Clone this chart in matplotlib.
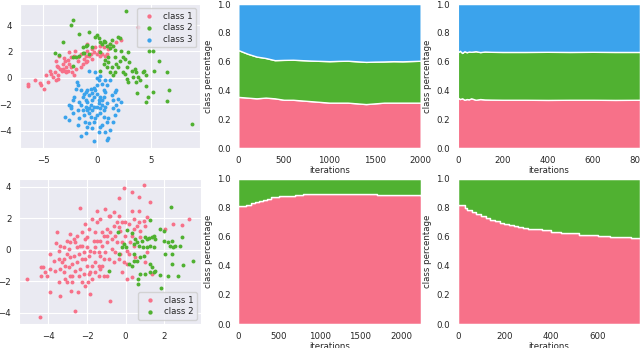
import numpy as np
import matplotlib
matplotlib.use("Agg")
import matplotlib.pyplot as plt
import seaborn as sns

sns.set_style("darkgrid")
plt.rcParams['font.family'] = ['DejaVu Sans']
colors = sns.color_palette("husl", 3)

# ---- scatter data, 3 classes (top left) ----
a_c1 = [(-6.4, -0.65), (-6.4, -0.5), (-5.8, -0.15), (-5.3, -0.4), (-5.2, -0.58), (-4.9, -0.83),
        (-4.55, -0.33), (-4.7, 0.18), (-4.25, 0.3), (-4.4, 0.5), (-3.95, 0.43), (-4.1, 0.05),
        (-3.8, -0.2), (-3.65, 0.18), (-3.6, 0.8), (-3.8, 1.3), (-3.5, 1.68), (-3.2, 1.05),
        (-3.3, 0.55), (-3.0, 1.3), (-2.9, 0.8), (-2.7, 1.35), (-2.6, 1.05), (-2.4, 0.8),
        (-2.7, 0.55), (-2.3, 0.43), (-2.1, 0.18), (-2.0, 0.68), (-2.4, 1.55), (-2.6, 1.93),
        (-2.1, 1.68), (-1.8, 1.3), (-1.5, 1.8), (-1.35, 1.05), (-1.2, 1.43), (-1.05, 1.68),
        (-0.9, 2.05), (-0.75, 1.68), (-0.6, 1.8), (-0.45, 2.18), (-0.3, 1.93), (-0.15, 2.3),
        (0.0, 1.8), (0.15, 2.05), (0.3, 2.43), (0.45, 1.8), (0.6, 2.3), (0.9, 1.8),
        (1.05, 2.18), (1.2, 2.55), (0.75, 1.68), (-1.05, 1.18), (-1.5, 0.8), (-1.8, 1.55),
        (-2.9, 0.43), (-3.2, 0.68), (-3.65, -0.08), (-3.1, 1.48), (-2.05, 2.05), (-0.9, 2.55),
        (1.8, 2.68), (2.25, 2.85), (3.8, 3.85), (-3.0, 0.55), (-3.7, 0.93), (-3.4, 0.68),
        (-0.9, 1.3), (-0.45, 1.43), (0.3, 1.68)]
a_c2 = [(2.65, 5.1), (-2.25, 4.35), (-2.4, 3.98), (-1.65, 3.35), (-0.75, 3.5), (-3.2, 2.75),
        (-3.95, 1.88), (-3.5, 1.75), (-2.25, 1.6), (-1.95, 1.55), (-1.35, 1.85), (-1.05, 2.43),
        (-0.9, 2.5), (-0.45, 2.3), (-0.15, 3.1), (0.0, 3.23), (0.15, 3.05), (0.3, 2.68),
        (0.45, 2.55), (0.6, 2.8), (0.75, 2.68), (0.9, 2.43), (1.2, 2.6), (1.35, 2.85),
        (1.5, 2.43), (1.65, 2.1), (1.95, 3.1), (2.1, 3.05), (2.25, 2.05), (2.4, 1.6),
        (2.6, 1.43), (2.9, 1.93), (3.0, 1.18), (2.75, 0.8), (3.2, 0.55), (3.5, 0.68),
        (3.65, 0.43), (3.8, 0.05), (3.95, -0.15), (4.25, 0.43), (4.4, 0.5), (4.55, 0.18),
        (3.65, -0.33), (3.7, -1.15), (4.55, -0.65), (4.7, -1.45), (4.55, -1.83), (5.15, -1.08),
        (5.3, 0.5), (5.2, 2.05), (5.75, 1.25), (6.5, 0.43), (6.65, -0.95), (6.5, -1.75),
        (8.8, -3.5), (4.85, 2.0), (0.3, 0.55), (0.9, 0.8), (1.05, 1.18), (1.35, 0.8),
        (1.65, 0.43), (1.5, 0.18), (1.2, 0.43), (1.8, 1.05), (1.95, 0.8), (2.1, 1.3),
        (2.6, 0.3), (2.75, -0.08), (2.4, 0.43), (0.6, 1.05), (0.75, 1.35), (1.05, 1.6),
        (1.65, 1.6), (0.3, 1.93), (-0.75, 1.8), (-1.2, 1.85), (-1.65, 1.68), (-2.2, 0.93),
        (-1.35, 2.3), (1.2, 2.23), (3.35, 0.05), (2.9, -0.33)]
a_c3 = [(-1.9, -0.33), (-1.8, -0.58), (-1.95, -0.83), (-1.5, -0.9), (-2.1, -1.45), (-2.6, -2.08),
        (-2.4, -2.33), (-3.0, -2.95), (-2.6, -3.2), (-2.25, -2.7), (-1.8, -2.45), (-1.65, -1.83),
        (-1.35, -1.45), (-1.2, -1.2), (-1.05, -1.08), (-0.9, -0.95), (-0.75, -1.33), (-0.6, -0.83),
        (-0.45, -1.15), (-0.3, -0.75), (-0.15, -0.95), (0.0, -0.58), (0.15, -0.2), (0.3, 0.1),
        (-0.15, 0.43), (0.45, -0.45), (0.6, -0.9), (0.75, -1.08), (0.3, -1.45), (0.15, -1.95),
        (0.0, -2.2), (0.3, -2.33), (0.45, -2.08), (0.6, -2.45), (0.75, -2.2), (0.9, -1.95),
        (0.3, -2.7), (0.0, -2.83), (-0.15, -3.08), (-0.3, -3.33), (-0.6, -2.95), (-0.75, -2.7),
        (-0.9, -2.45), (-1.05, -2.2), (-1.2, -2.83), (-1.35, -2.45), (-1.5, -2.08), (-1.65, -3.08),
        (-1.8, -3.58), (-1.5, -4.45), (-1.05, -4.2), (-0.9, -3.7), (-0.75, -3.45), (-0.45, -3.83),
        (-0.3, -4.83), (0.75, -4.08), (0.9, -4.7), (1.05, -4.58), (1.2, -3.95), (1.5, -3.33),
        (1.65, -2.83), (1.95, -2.45), (1.8, -2.08), (1.5, -1.7), (1.35, -1.33), (1.65, -1.08),
        (1.8, -0.95), (1.95, -1.58), (2.25, -1.83), (0.9, -0.58), (1.2, -0.2), (0.75, -0.2),
        (0.45, -1.7), (0.15, -1.7), (0.6, -1.45), (-0.45, -1.7), (-0.9, -1.83), (-1.05, -1.7),
        (-0.6, -2.08), (-0.3, -2.2), (-0.45, -2.45), (-0.75, -2.33), (0.6, -2.95), (1.05, -3.08),
        (0.9, -3.33), (0.45, -3.58), (0.15, -4.08), (0.3, -3.7), (1.5, -2.33), (-0.3, -1.45),
        (0.0, -1.2), (-1.15, -3.33), (-2.25, -1.7), (-2.4, -2.15), (0.0, 0.0), (-0.75, 0.55)]

# ---- scatter data, 2 classes (bottom left) ----
b_c1 = [(-5.1, -1.86), (-4.45, -4.28), (-4.41, -1.12), (-4.41, -1.65), (-4.19, -1.43), (-3.93, -2.66),
        (-3.9, -1.22), (-3.55, 1.1), (-3.59, 0.42), (-3.47, -2.03), (-3.41, -2.91), (-3.29, -0.8),
        (-3.21, -0.59), (-3.12, -1.01), (-3.03, -0.27), (-2.95, 0.04), (-2.86, 0.99), (-2.86, -0.49),
        (-2.83, -2.59), (-2.78, -1.65), (-2.69, 0.68), (-2.6, -1.33), (-2.6, -3.86), (-2.52, -0.8),
        (-2.48, -2.66), (-2.43, -0.27), (-2.34, -1.22), (-2.34, 2.62), (-2.26, 0.25), (-2.17, -1.54),
        (-2.09, -0.59), (-2.0, -1.01), (-1.97, -2.07), (-1.91, 1.31), (-1.86, -2.81), (-1.83, -0.06),
        (-1.74, 1.94), (-1.66, 0.57), (-1.57, -0.8), (-1.48, 1.73), (-1.48, 2.47), (-1.4, -0.17),
        (-1.31, -1.22), (-1.22, 1.1), (-1.14, -0.59), (-1.05, 2.57), (-0.97, 0.46), (-0.97, -1.65),
        (-0.88, 2.15), (-0.79, -3.23), (-0.71, 0.04), (-0.62, -0.8), (-0.62, 2.36), (-0.53, 0.89),
        (-0.45, 1.73), (-0.36, 3.25), (-0.36, 1.41), (-0.28, -0.27), (-0.19, 0.46), (-0.1, 3.88),
        (-0.02, 0.89), (0.07, -0.91), (0.16, 1.62), (0.24, 0.46), (0.33, 3.63), (0.33, 2.47),
        (0.41, 1.31), (0.5, -0.49), (0.67, 3.31), (0.67, 2.47), (0.76, 0.78), (0.93, 4.09),
        (1.02, 1.52), (1.02, -0.8), (1.1, -0.17), (1.28, 3.0), (1.36, -1.54), (2.05, 1.31),
        (2.48, 1.62), (2.91, 1.56), (3.31, 1.94), (-3.9, -0.27), (-3.72, -0.7), (-3.47, -0.06),
        (-3.38, 0.25), (-3.21, -1.43), (-3.12, -1.86), (-3.03, 0.57), (-2.86, -1.65), (-2.78, -0.91),
        (-2.69, -0.38), (-2.52, 0.15), (-2.34, 0.25), (-2.26, -0.59), (-2.17, -0.17), (-2.09, 0.68),
        (-2.0, 0.15), (-1.91, -0.38), (-1.83, -1.43), (-1.74, -1.01), (-1.66, -0.17), (-1.57, 0.15),
        (-1.48, 0.57), (-1.4, -1.01), (-1.31, -0.38), (-1.22, 0.25), (-1.14, 0.89), (-1.05, -0.17),
        (-0.97, 1.31), (-0.88, -0.59), (-0.79, 1.1), (-0.71, 0.68), (-0.62, 1.52), (-0.53, -0.17),
        (-0.45, 0.46), (-0.36, -0.59), (-0.28, 1.2), (-0.19, 1.73), (-0.02, 1.73), (0.16, -0.27),
        (0.33, 0.89), (0.41, 1.94), (0.59, 1.52), (0.72, 1.2), (0.41, 0.25), (-2.6, 0.46),
        (-2.43, -1.65), (-2.26, -2.07), (-2.09, -2.28), (-1.91, -1.54), (-1.74, -1.86), (-1.57, -1.43),
        (-1.4, -1.65), (-1.22, -1.01), (-1.14, -1.65), (-2.95, -1.12), (-2.78, -2.07), (-3.64, -1.33),
        (-3.38, -1.22), (-4.07, -1.65), (-4.28, -1.12), (-3.03, -2.07), (-2.26, 1.1), (-2.09, 1.62),
        (-2.52, 0.89), (-1.57, 1.1), (-1.31, 1.94), (-0.79, 2.15), (-0.36, 2.15), (0.07, -0.06),
        (0.33, -1.75), (0.07, -1.86), (0.93, 1.84), (0.67, 1.73), (1.1, 2.05), (-0.1, -0.8),
        (-0.19, -1.43), (-3.21, 0.15), (-3.47, -0.59), (-2.86, 0.46), (-2.0, 0.78), (-1.31, 0.57),
        (-0.97, 0.89)]
b_c2 = [(2.34, 2.68), (1.28, 1.88), (-0.41, 1.1), (0.07, 1.27), (0.5, 0.68), (0.59, 0.51),
        (0.41, 0.36), (0.67, 0.25), (0.84, 0.57), (1.02, 0.78), (1.1, 0.68), (1.19, 0.72),
        (1.36, 0.78), (1.45, 0.89), (1.53, 0.68), (1.76, 1.31), (1.97, 0.57), (2.05, -0.27),
        (2.22, 0.46), (2.31, 0.25), (2.4, 0.57), (2.48, 0.15), (2.57, 0.25), (2.83, 0.25),
        (2.91, 0.78), (2.4, -0.27), (1.97, 1.2), (1.45, 0.15), (1.28, 0.25), (1.1, 0.15),
        (0.9, 0.15), (0.93, -0.38), (0.76, -0.49), (0.59, -0.7), (0.41, -0.7), (0.33, -1.01),
        (0.16, -0.91), (0.41, -0.27), (-0.1, 0.36), (0.03, 0.15), (-0.19, 0.15), (1.28, -0.91),
        (1.36, -1.12), (1.53, -1.33), (1.45, -1.43), (1.28, -1.43), (1.02, -1.54), (0.76, -1.54),
        (0.62, -1.86), (0.62, -2.17), (1.79, -1.6), (2.22, -1.65), (2.4, -0.91), (2.97, -0.97),
        (2.74, -1.65), (3.48, -0.7), (1.83, -2.45), (-0.88, -1.33), (0.33, 1.05), (-0.36, -0.27)]

# ---- class share over iterations ----
it_a = list(range(0, 2001, 100))
a_share1 = [0.355, 0.35, 0.345, 0.35, 0.345, 0.335, 0.335, 0.33, 0.325, 0.32, 0.315,
            0.315, 0.315, 0.31, 0.305, 0.31, 0.315, 0.315, 0.315, 0.315, 0.315]
a_share2 = [0.325, 0.305, 0.29, 0.275, 0.265, 0.277, 0.278, 0.28, 0.282, 0.285, 0.288,
            0.29, 0.291, 0.292, 0.293, 0.29, 0.286, 0.288, 0.287, 0.289, 0.291]
a_share3 = [0.32, 0.345, 0.365, 0.375, 0.39, 0.388, 0.387, 0.39, 0.393, 0.395, 0.397,
            0.395, 0.394, 0.398, 0.402, 0.4, 0.399, 0.397, 0.398, 0.396, 0.394]

it_b = [0, 10, 20, 30, 40, 50, 60, 80, 100, 120, 150, 200, 300, 400, 500, 600, 700, 810]
b_share1 = [0.35, 0.34, 0.345, 0.335, 0.34, 0.338, 0.345, 0.335, 0.34, 0.337, 0.336, 0.335,
            0.335, 0.334, 0.335, 0.335, 0.334, 0.335]
b_share2 = [0.315, 0.335, 0.315, 0.337, 0.325, 0.332, 0.323, 0.337, 0.326, 0.333, 0.332, 0.332,
            0.332, 0.334, 0.332, 0.333, 0.333, 0.332]
b_share3 = [0.335, 0.325, 0.34, 0.328, 0.335, 0.33, 0.332, 0.328, 0.334, 0.33, 0.332, 0.333,
            0.333, 0.332, 0.333, 0.332, 0.333, 0.333]

it_c = [0, 100, 150, 200, 250, 300, 350, 400, 450, 500, 600, 700, 800, 900, 1000, 1100,
        1200, 1300, 1400, 1500, 1600, 1700, 1800, 1900, 2000, 2100, 2240]
c_share1 = [0.81, 0.815, 0.83, 0.84, 0.845, 0.85, 0.86, 0.87, 0.875, 0.878, 0.88, 0.888,
            0.893, 0.892, 0.893, 0.895, 0.895, 0.893, 0.893, 0.892, 0.891, 0.89, 0.888,
            0.886, 0.885, 0.884, 0.883]
c_share2 = [0.19, 0.185, 0.17, 0.16, 0.155, 0.15, 0.14, 0.13, 0.125, 0.122, 0.12, 0.112,
            0.107, 0.108, 0.107, 0.105, 0.105, 0.107, 0.107, 0.108, 0.109, 0.11, 0.112,
            0.114, 0.115, 0.116, 0.117]

it_d = [0, 20, 30, 40, 60, 80, 100, 120, 140, 160, 180, 200, 220, 240, 260, 280, 300,
        330, 360, 400, 440, 480, 520, 560, 600, 650, 700, 740, 780]
d_share1 = [0.815, 0.815, 0.8, 0.785, 0.77, 0.755, 0.745, 0.73, 0.715, 0.705, 0.695, 0.688,
            0.68, 0.675, 0.67, 0.663, 0.656, 0.65, 0.643, 0.635, 0.628, 0.622, 0.615, 0.61,
            0.606, 0.601, 0.597, 0.594, 0.591]
d_share2 = [0.185, 0.185, 0.2, 0.215, 0.23, 0.245, 0.255, 0.27, 0.285, 0.295, 0.305, 0.312,
            0.32, 0.325, 0.33, 0.337, 0.344, 0.35, 0.357, 0.365, 0.372, 0.378, 0.385, 0.39,
            0.394, 0.399, 0.403, 0.406, 0.409]

fs = 6.2
fig = plt.figure(figsize=(6.4, 3.48), dpi=100)
W, H = 640.0, 348.0


def add_ax(x0, y0, x1, y1):
    return fig.add_axes([x0 / W, 1 - y1 / H, (x1 - x0) / W, (y1 - y0) / H])


ax1 = add_ax(20, 4, 200, 148)
ax2 = add_ax(238.3, 4, 420.7, 148)
ax3 = add_ax(457.7, 4, 640, 148)
ax4 = add_ax(19, 178.5, 201, 324)
ax5 = add_ax(238.3, 178.5, 420.7, 324)
ax6 = add_ax(457.7, 178.5, 640, 324)

for pts, col, lab in zip([a_c1, a_c2, a_c3], colors, ["class 1", "class 2", "class 3"]):
    p = np.array(pts)
    ax1.scatter(p[:, 0], p[:, 1], s=8, color=col, linewidths=0, label=lab)
ax1.legend(loc="upper right", fontsize=fs, handletextpad=0.6, borderpad=0.4,
           labelspacing=0.3, markerscale=1.1)

for pts, col, lab in zip([b_c1, b_c2], colors, ["class 1", "class 2"]):
    p = np.array(pts)
    ax4.scatter(p[:, 0], p[:, 1], s=8, color=col, linewidths=0, label=lab)
ax4.legend(loc="lower right", fontsize=fs, handletextpad=0.6, borderpad=0.4,
           labelspacing=0.3, markerscale=1.1)

ax2.stackplot(it_a, a_share1, a_share2, a_share3, colors=colors)
ax3.stackplot(it_b, b_share1, b_share2, b_share3, colors=colors)
ax5.stackplot(it_c, c_share1, c_share2, colors=colors[:2], step='post')
ax6.stackplot(it_d, d_share1, d_share2, colors=colors[:2], step='post')

for ax in [ax2, ax3, ax5, ax6]:
    ax.set_ylim(0, 1)
    ax.set_xlabel("iterations", fontsize=fs, labelpad=1)
    ax.set_ylabel("class percentage", fontsize=fs, labelpad=3)

ax2.set_xlim(0, 2000)
ax3.set_xlim(0, 810)
ax5.set_xlim(0, 2240)
ax6.set_xlim(0, 780)

for ax in [ax1, ax2, ax3, ax4, ax5, ax6]:
    ax.tick_params(labelsize=fs, pad=2)

fig.savefig("out.png", dpi=100)
